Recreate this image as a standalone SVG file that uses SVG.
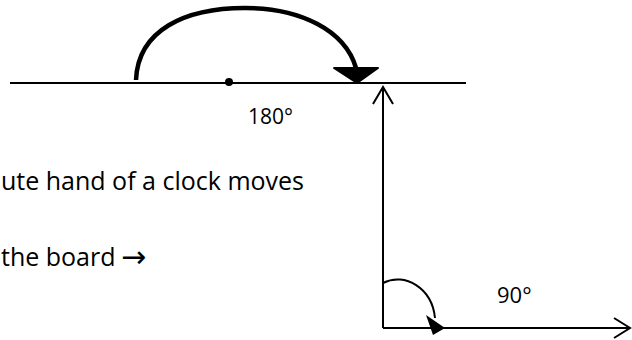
<svg xmlns="http://www.w3.org/2000/svg" width="632" height="340" viewBox="0 0 632 340">
<style>
.t{font-family:"Open Sans","Liberation Sans",sans-serif;fill:#000}
.ln{stroke:#000;stroke-width:2;fill:none}
</style>
<rect width="632" height="340" fill="#fff"/>
<g id="straight-angle">
<line class="ln" x1="10" y1="83" x2="466" y2="83"/>
<circle cx="229" cy="82" r="4" fill="#000"/>
<path d="M136,80 C138,30 185,8 245,8 C300,8 345,30 356,68" fill="none" stroke="#000" stroke-width="4.5"/>
<path d="M334,68 L378,68 L357,83 Z" fill="#000" stroke="#000" stroke-width="2" stroke-linejoin="round"/>
<text class="t" x="248" y="124" font-size="21">180°</text>
</g>
<g id="text">
<text class="t" x="1" y="190" font-size="25">ute hand of a clock moves</text>
<text class="t" x="1" y="266" font-size="25">the board <tspan x="121" y="267" font-family="DejaVu Sans" font-size="30">→</tspan></text>
</g>
<g id="right-angle">
<line class="ln" x1="383" y1="87" x2="383" y2="328"/>
<line class="ln" x1="383" y1="328" x2="629" y2="328"/>
<path class="ln" d="M373,104 L383,87 L393,104"/>
<path class="ln" d="M614,318 L630,328 L614,338"/>
<path d="M383,283 C405,272 432,288 435,318" fill="none" stroke="#000" stroke-width="2"/>
<path d="M426,315 L445,328 L433,335 Z" fill="#000"/>
<text class="t" x="497" y="303" font-size="22">90°</text>
</g>
</svg>
